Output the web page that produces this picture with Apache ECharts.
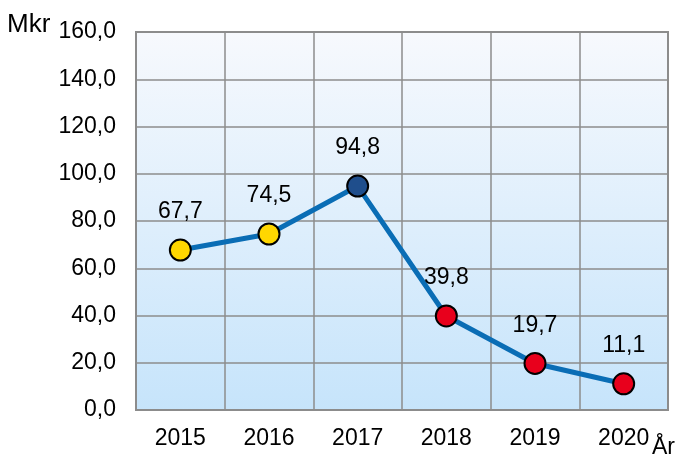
<!DOCTYPE html>
<html>
<head>
<meta charset="utf-8">
<script src="https://cdn.jsdelivr.net/npm/echarts@6/dist/echarts.min.js"></script>
<style>
  html, body { margin: 0; padding: 0; background: #fff; }
  #chart { width: 681px; height: 459px; }
</style>
</head>
<body>
<div id="chart"></div>
<script>
  // data
  const years = ['2015', '2016', '2017', '2018', '2019', '2020'];
  const values = [67.7, 74.5, 94.8, 39.8, 19.7, 11.1];
  const markerColors = ['#ffd700', '#ffd700', '#1f4e8c', '#e8001c', '#e8001c', '#e8001c'];

  const fmt = v => v.toFixed(1).replace('.', ',');

  let myChart = echarts.init(document.getElementById('chart'));
  let option = {
    animation: false,
    textStyle: { fontFamily: 'Liberation Sans' },
    grid: {
      left: 136, right: 13, top: 32, bottom: 49,
      outerBoundsMode: 'none',
      containLabel: false,
      show: true,
      borderColor: '#8c8c8c',
      borderWidth: 2,
      backgroundColor: new echarts.graphic.LinearGradient(0, 0, 0, 1, [
        { offset: 0, color: '#f7f9fd' },
        { offset: 1, color: '#c6e4fb' }
      ])
    },
    xAxis: {
      type: 'category',
      data: years,
      boundaryGap: true,
      axisLine: { show: false },
      axisTick: { show: false },
      axisLabel: { fontSize: 23, color: '#000', margin: 17 },
      splitLine: { show: true, lineStyle: { color: '#8c8c8c', width: 1.5 } }
    },
    yAxis: {
      type: 'value',
      min: 0, max: 160, interval: 20,
      axisLine: { show: false },
      axisTick: { show: false },
      axisLabel: { fontSize: 23, color: '#000', margin: 20, formatter: v => fmt(v) },
      splitLine: { show: true, lineStyle: { color: '#8c8c8c', width: 1.5 } }
    },
    graphic: [
      { type: 'text', left: 7, top: 12, style: { text: 'Mkr', fontSize: 26, fill: '#000', fontFamily: 'Liberation Sans' } },
      { type: 'text', left: 652, top: 436, style: { text: 'År', fontSize: 23, fill: '#000', fontFamily: 'Liberation Sans' } }
    ],
    series: [{
      type: 'line',
      data: values.map((v, i) => ({ value: v, itemStyle: { color: markerColors[i] } })),
      lineStyle: { color: '#0a6db5', width: 5 },
      symbol: 'circle',
      symbolSize: 21,
      itemStyle: { borderColor: '#000', borderWidth: 2 },
      label: {
        show: true, position: 'top', distance: 15,
        fontSize: 23, color: '#000',
        formatter: p => fmt(p.value)
      },
      z: 5
    }]
  };
  myChart.setOption(option);
</script>
</body>
</html>
